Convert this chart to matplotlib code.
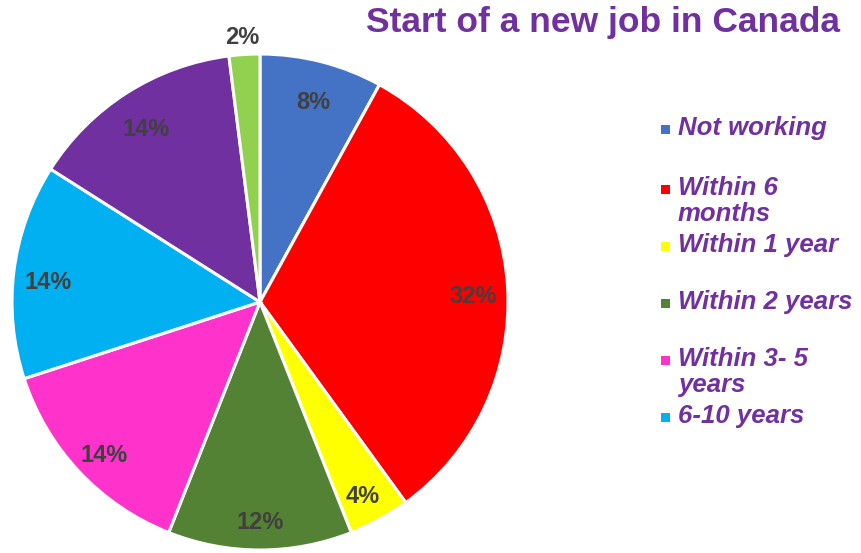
import matplotlib.pyplot as plt

plt.rcParams['font.family'] = ['Liberation Sans', 'DejaVu Sans']

# share of respondents, clockwise from 12 o'clock
shares = [8, 32, 4, 12, 14, 14, 14, 2]
colors = ['#4472C4', '#FF0000', '#FFFF00', '#548235',
          '#FF33CC', '#00B0F0', '#7030A0', '#92D050']
legend_labels = ['Not working', 'Within 6\nmonths', 'Within 1 year',
                 'Within 2 years', 'Within 3- 5\nyears', '6-10 years']

purple = '#7030A0'

fig = plt.figure(figsize=(8.61, 5.53), dpi=100)
ax = fig.add_axes([12/861, 3/553, 496/861, 496/553])

wedges, texts, autotexts = ax.pie(
    shares, colors=colors, startangle=90, counterclock=False,
    autopct='%d%%', pctdistance=0.86, radius=1,
    wedgeprops=dict(edgecolor='white', linewidth=2.2),
    textprops=dict(fontsize=17, fontweight='bold', color='#404040'))

# nudge the value labels a little lower inside their slices
for t in autotexts:
    x, y = t.get_position()
    t.set_position((x, y - 0.03))

# the thin last slice gets its label outside the pie
autotexts[-1].set_position((-0.07, 1.065))

ax.set_xlim(-1, 1)
ax.set_ylim(-1, 1)
ax.set_aspect('equal')

fig.text(603/861, 0.96, 'Start of a new job in Canada', ha='center', va='center',
         fontsize=25.5, fontweight='bold', color=purple)

# legend drawn by hand so the wrapped labels spill over like the original
y0 = 1 - 129/553
step = 57/553
for i, lab in enumerate(legend_labels):
    y = y0 - i*step - (3/553 if i > 0 else 0)
    fig.patches.append(plt.Rectangle((661/861, y - 5/553), 9/861, 9/553,
                                     transform=fig.transFigure,
                                     facecolor=colors[i], edgecolor='none'))
    fig.text(678/861, y + 13/553, lab, ha='left', va='top', fontsize=18.5,
             fontweight='bold', fontstyle='italic', color=purple,
             linespacing=1.12)

fig.savefig('out.png', dpi=100)
